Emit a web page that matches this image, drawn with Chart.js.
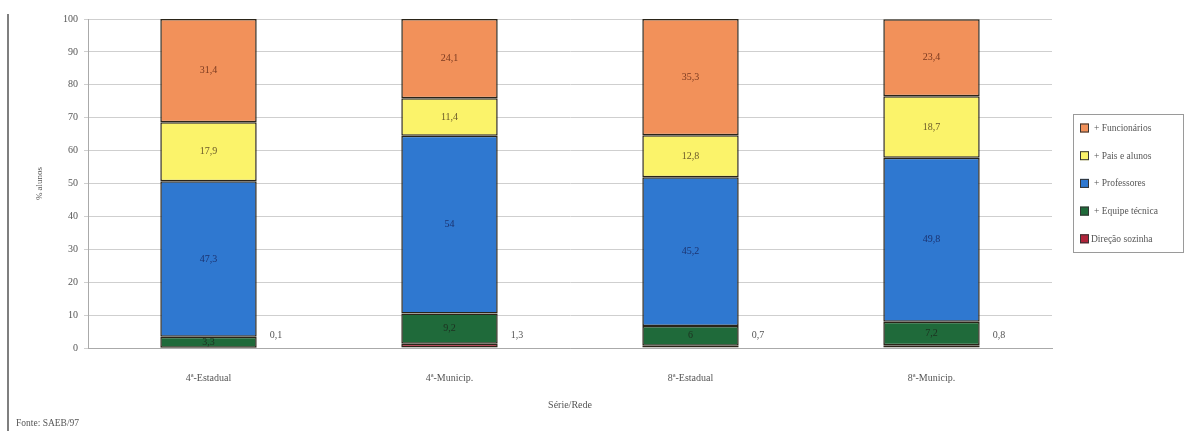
<!DOCTYPE html>
<html>
<head>
<meta charset="utf-8">
<script src="https://cdn.jsdelivr.net/npm/chart.js@4"></script>
<style>
  html, body { margin: 0; padding: 0; background: #ffffff; }
  #wrap { position: relative; width: 1189px; height: 431px; }
</style>
</head>
<body>
<div id="wrap"><canvas id="c" width="1189" height="431"></canvas></div>
<script>
// Série/Rede categories
const categories = ['4ª-Estadual', '4ª-Municip.', '8ª-Estadual', '8ª-Municip.'];

// % de alunos por quem participa da elaboração (stack from bottom to top)
const direcaoSozinha = [0.1, 1.3, 0.7, 0.8];
const equipeTecnica  = [3.3, 9.2, 6.0, 7.2];
const professores    = [47.3, 54.0, 45.2, 49.8];
const paisAlunos     = [17.9, 11.4, 12.8, 18.7];
const funcionarios   = [31.4, 24.1, 35.3, 23.4];

const yTicks = [0, 10, 20, 30, 40, 50, 60, 70, 80, 90, 100];

const serif = '"Liberation Serif", "DejaVu Serif", serif';

const seriesDefs = [
  { label: 'Direção sozinha',   data: direcaoSozinha, color: '#b0243a', ink: '#444' },
  { label: '+ Equipe técnica',  data: equipeTecnica,  color: '#1f6a3a', ink: '#1d3020' },
  { label: '+ Professores',     data: professores,    color: '#2f78d0', ink: '#1c3370' },
  { label: '+ Pais e alunos',   data: paisAlunos,     color: '#fbf36a', ink: '#6b5a2a' },
  { label: '+ Funcionários',    data: funcionarios,   color: '#f2915a', ink: '#7a3a20' }
];

const fmt = v => String(v).replace('.', ',');

// value labels: inside segments, Direção sozinha beside the bar base
const valueLabels = {
  id: 'valueLabels',
  afterDatasetsDraw(chart) {
    const ctx = chart.ctx;
    ctx.save();
    ctx.font = '10px ' + serif;
    ctx.textBaseline = 'middle';
    chart.data.datasets.forEach((ds, di) => {
      const meta = chart.getDatasetMeta(di);
      meta.data.forEach((bar, i) => {
        const v = ds.data[i];
        if (di === 0) {
          ctx.fillStyle = '#555';
          ctx.textAlign = 'left';
          ctx.fillText(fmt(v), bar.x + bar.width / 2 + 13, bar.base - 12);
        } else {
          ctx.fillStyle = seriesDefs[di].ink;
          ctx.textAlign = 'center';
          ctx.fillText(fmt(v), bar.x, (bar.y + bar.base) / 2);
        }
      });
    });
    ctx.restore();
  }
};

// boxed legend at the right, top series first
const boxLegend = {
  id: 'boxLegend',
  afterDraw(chart) {
    const ctx = chart.ctx;
    const left = chart.chartArea.right + 21, top = 114, w = 110, h = 138;
    ctx.save();
    ctx.strokeStyle = '#9a9a9a';
    ctx.lineWidth = 1;
    ctx.strokeRect(left + 0.5, top + 0.5, w, h);
    ctx.font = '9.5px ' + serif;
    ctx.textBaseline = 'middle';
    ctx.textAlign = 'left';
    const order = chart.data.datasets.map((d, i) => i).reverse();
    order.forEach((di, k) => {
      const ds = chart.data.datasets[di];
      const y = top + 14 + k * 27.7;
      ctx.fillStyle = ds.backgroundColor;
      ctx.fillRect(left + 7, y - 4.5, 9, 9);
      ctx.strokeStyle = '#333';
      ctx.strokeRect(left + 7.5, y - 4, 8, 8);
      ctx.fillStyle = '#555';
      ctx.fillText(ds.label, left + (di === 0 ? 18 : 21), y + 0.5);
    });
    ctx.restore();
  }
};

// source note and left margin rule
const pageNotes = {
  id: 'pageNotes',
  afterDraw(chart) {
    const ctx = chart.ctx;
    ctx.save();
    ctx.strokeStyle = '#555';
    ctx.lineWidth = 1.5;
    ctx.beginPath();
    ctx.moveTo(8, 14);
    ctx.lineTo(8, 431);
    ctx.stroke();
    ctx.fillStyle = '#555';
    ctx.font = '9.5px ' + serif;
    ctx.textBaseline = 'middle';
    ctx.textAlign = 'left';
    ctx.fillText('Fonte: SAEB/97', 16, 423);
    ctx.restore();
  }
};

new Chart(document.getElementById('c'), {
  type: 'bar',
  data: {
    labels: categories,
    datasets: seriesDefs.map(s => ({
      label: s.label,
      data: s.data,
      backgroundColor: s.color,
      borderColor: '#2a2418',
      borderWidth: 1.5,
      borderSkipped: false,
      categoryPercentage: 1,
      barPercentage: 0.4
    }))
  },
  options: {
    responsive: false,
    animation: false,
    devicePixelRatio: 1,
    layout: { padding: { left: 8, right: 137, top: 19, bottom: 16 } },
    plugins: {
      legend: { display: false },
      tooltip: { enabled: false }
    },
    scales: {
      x: {
        stacked: true,
        grid: { display: true, drawOnChartArea: false, drawTicks: true, tickLength: 0, color: '#aaa' },
        border: { color: '#aaa' },
        ticks: { color: '#555', font: { family: serif, size: 10 }, padding: 24 },
        title: { display: true, text: 'Série/Rede', color: '#555', font: { family: serif, size: 10 }, padding: { top: 8 } },
        afterFit(s) { s.height = 67; }
      },
      y: {
        stacked: true,
        min: 0,
        max: 100,
        afterBuildTicks(s) { s.ticks = yTicks.map(v => ({ value: v })); },
        grid: { color: '#cfcfcf', tickLength: 4, lineWidth: 1 },
        border: { color: '#aaa' },
        ticks: { color: '#555', font: { family: serif, size: 10 }, padding: 6 },
        title: { display: true, text: '% alunos', color: '#555', font: { family: serif, size: 9 }, padding: { top: 26, bottom: 0 } },
        afterFit(s) { s.width = 80; }
      }
    }
  },
  plugins: [valueLabels, boxLegend, pageNotes]
});
</script>
</body>
</html>
